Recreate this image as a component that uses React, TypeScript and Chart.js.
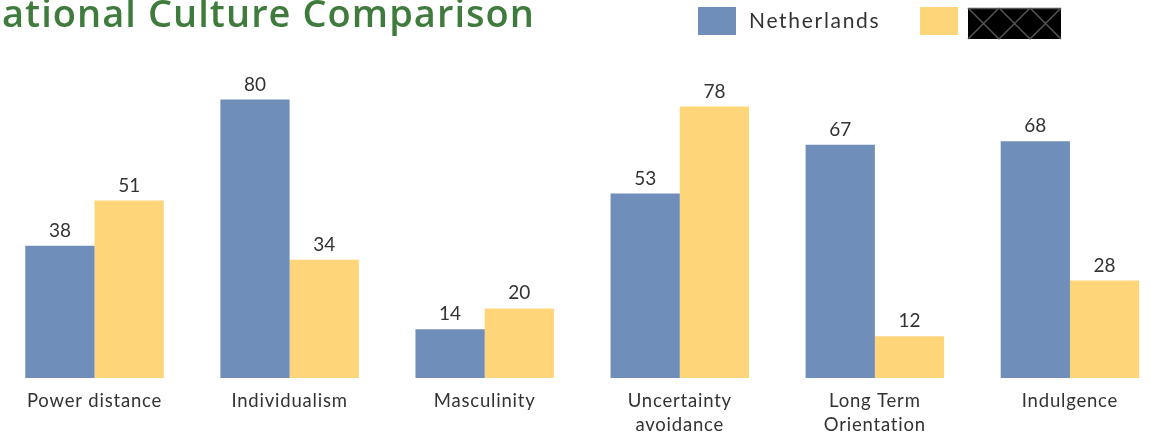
import React, { useEffect, useRef } from "react";
import { Chart, registerables } from "chart.js";

Chart.register(...registerables);

const TITLE = "National Culture Comparison";
const categories: (string | string[])[] = [
  "Power distance",
  "Individualism",
  "Masculinity",
  ["Uncertainty", "avoidance"],
  ["Long Term", "Orientation"],
  "Indulgence",
];
const seriesNames = ["Netherlands", ""];
const netherlands = [38, 80, 14, 53, 67, 68];
const other = [51, 34, 20, 78, 12, 28];

const BLUE = "#6F8EBA";
const YELLOW = "#FFD57A";
const GREEN = "#3F7B3C";
const TEXT = "#333333";
const OFFSET = 40; // canvas left edge sits this far left of the viewport
const CANVAS_W = 1220;
const CANVAS_H = 436;

const spacingPlugin = {
  id: "spacing",
  beforeDraw(chart: any) {
    (chart.ctx as any).letterSpacing = "0.8px";
  },
};

const decorPlugin = {
  id: "decor",
  afterDraw(chart: any) {
    const ctx = chart.ctx as any;
    ctx.save();
    // Title (first letter falls outside the visible window)
    ctx.font = '600 38px "Open Sans"';
    ctx.fillStyle = GREEN;
    ctx.textBaseline = "alphabetic";
    ctx.textAlign = "left";
    ctx.letterSpacing = "0px";
    const visible = TITLE.slice(1);
    const baseW = ctx.measureText(visible).width;
    const sp = Math.max(0, (533 - baseW) / visible.length);
    ctx.letterSpacing = sp + "px";
    const nW = ctx.measureText(TITLE.slice(0, 1)).width;
    ctx.fillText(TITLE, OFFSET + 2 - nW, 27);

    // Legend
    ctx.fillStyle = BLUE;
    ctx.fillRect(OFFSET + 698, 7, 38, 28);
    ctx.letterSpacing = "1.7px";
    ctx.font = '21px "Lato"';
    ctx.fillStyle = TEXT;
    ctx.fillText(seriesNames[0], OFFSET + 749, 27.5);
    ctx.fillStyle = YELLOW;
    ctx.fillRect(OFFSET + 920, 7, 38, 28);
    // redacted label box
    const bx = OFFSET + 968, by = 8, bw = 93, bh = 31;
    ctx.fillStyle = "#000000";
    ctx.fillRect(bx, by, bw, bh);
    ctx.strokeStyle = "#555555";
    ctx.lineWidth = 1.5;
    ctx.beginPath();
    const cw = bw / 3;
    for (let i = 0; i < 3; i++) {
      ctx.moveTo(bx + i * cw, by);
      ctx.lineTo(bx + (i + 1) * cw, by + bh);
      ctx.moveTo(bx + (i + 1) * cw, by);
      ctx.lineTo(bx + i * cw, by + bh);
    }
    ctx.moveTo(bx, by + 0.5);
    ctx.lineTo(bx + bw, by + 0.5);
    ctx.stroke();

    // Data labels
    ctx.letterSpacing = "0px";
    ctx.font = '19px "Lato"';
    ctx.fillStyle = TEXT;
    ctx.textAlign = "center";
    ctx.textBaseline = "alphabetic";
    chart.data.datasets.forEach((ds: any, di: number) => {
      const meta = chart.getDatasetMeta(di);
      meta.data.forEach((bar: any, i: number) => {
        ctx.fillText(String(ds.data[i]), bar.x, bar.y - 9);
      });
    });
    ctx.restore();
  },
};

export default function App() {
  const ref = useRef<HTMLCanvasElement>(null);
  useEffect(() => {
    if (!ref.current) return;
    const chart = new Chart(ref.current, {
      type: "bar",
      data: {
        labels: categories,
        datasets: [
          { label: seriesNames[0], data: netherlands, backgroundColor: BLUE },
          { label: seriesNames[1], data: other, backgroundColor: YELLOW },
        ],
      },
      options: {
        responsive: false,
        animation: false,
        layout: { padding: { left: OFFSET - 3, right: CANVAS_W - (OFFSET + 1167.5), top: 30, bottom: 0 } },
        plugins: { legend: { display: false }, title: { display: false }, tooltip: { enabled: false } },
        datasets: { bar: { categoryPercentage: 0.71, barPercentage: 1.0 } },
        scales: {
          x: {
            grid: { display: false },
            border: { display: false },
            ticks: {
              color: TEXT,
              font: { family: "Lato", size: 18.5, lineHeight: "24px" },
              padding: 3,
              maxRotation: 0,
              autoSkip: false,
            },
            afterFit: (scale: any) => {
              scale.height = 58;
            },
          },
          y: { display: false, min: 0, max: 100 },
        },
      },
      plugins: [spacingPlugin, decorPlugin],
    });
    return () => chart.destroy();
  }, []);
  return (
    <div style={{ position: "fixed", left: 0, top: 0, width: 1151, height: 436, overflow: "hidden", background: "#fff" }}>
      <div style={{ position: "absolute", left: -OFFSET, top: 0, width: CANVAS_W, height: CANVAS_H }}>
        <canvas ref={ref} width={CANVAS_W} height={CANVAS_H} style={{ display: "block" }} />
      </div>
    </div>
  );
}
